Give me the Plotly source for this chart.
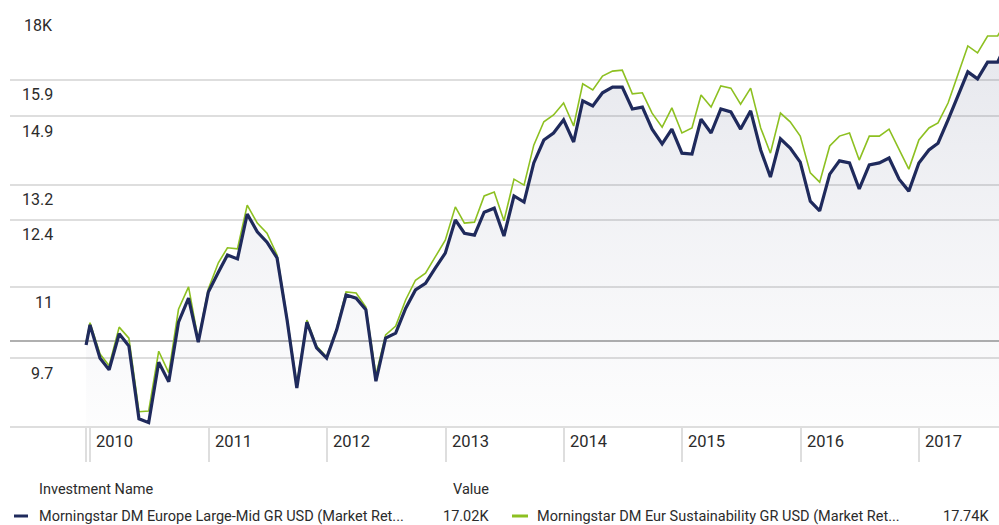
import numpy as np
import pandas as pd
import plotly.graph_objects as go

# ---------------- data ----------------
START_DATE = "2009-12-19"
MONTH_END_FIRST = "2009-12-31"
MONTH_END_LAST = "2017-09-30"

europe_large_mid = [
    9.93, 10.29,
    9.70, 9.50, 10.13, 9.91, 8.71, 8.65, 9.63, 9.30, 10.34, 10.79, 9.98, 10.91,
    11.30, 11.65, 11.57, 12.53, 12.14, 11.92, 11.59, 10.38, 9.20, 10.34, 9.88, 9.70,
    10.20, 10.85, 10.79, 10.57, 9.31, 10.05, 10.14, 10.60, 10.95, 11.08, 11.38, 11.69,
    12.40, 12.11, 12.07, 12.57, 12.66, 12.05, 12.94, 12.80, 13.72, 14.29, 14.47, 14.81,
    14.24, 15.32, 15.18, 15.54, 15.70, 15.70, 15.10, 15.15, 14.57, 14.19, 14.57, 13.96,
    13.94, 14.83, 14.47, 15.10, 15.02, 14.57, 15.05, 14.04, 13.38, 14.32, 14.09, 13.74,
    12.82, 12.60, 13.45, 13.77, 13.72, 13.10, 13.67, 13.72, 13.84, 13.33, 13.05, 13.72,
    14.04, 14.21, 14.81, 15.43, 16.13, 15.93, 16.41, 16.41, 17.02,
]
eur_sustainability = [
    9.98, 10.33,
    9.77, 9.57, 10.25, 10.05, 8.82, 8.83, 9.82, 9.45, 10.58, 11.01, 10.02, 10.97,
    11.49, 11.80, 11.78, 12.73, 12.33, 12.11, 11.65, 10.42, 9.26, 10.38, 9.91, 9.72,
    10.23, 10.91, 10.89, 10.62, 9.41, 10.11, 10.27, 10.76, 11.14, 11.28, 11.61, 11.96,
    12.69, 12.33, 12.35, 12.94, 13.03, 12.38, 13.33, 13.19, 14.16, 14.76, 14.94, 15.26,
    14.65, 15.79, 15.62, 16.01, 16.15, 16.18, 15.51, 15.54, 14.99, 14.62, 15.13, 14.47,
    14.60, 15.48, 15.15, 15.73, 15.67, 15.23, 15.67, 14.60, 13.96, 14.99, 14.76, 14.39,
    13.48, 13.26, 14.14, 14.39, 14.47, 13.79, 14.39, 14.39, 14.57, 14.04, 13.57, 14.29,
    14.60, 14.73, 15.26, 16.04, 16.89, 16.68, 17.19, 17.19, 17.74,
]

series_names = [
    "Morningstar DM Europe Large-Mid GR USD (Market Ret...",
    "Morningstar DM Eur Sustainability GR USD (Market Ret...",
]
series_values_text = ["17.02K", "17.74K"]
legend_header = ["Investment Name", "Value"]

y_tick_values = [9.7, 11, 12.4, 13.2, 14.9, 15.9, 18]
y_tick_text = ["9.7", "11", "12.4", "13.2", "14.9", "15.9", "18K"]
baseline_value = 10.0

year_labels = ["2010", "2011", "2012", "2013", "2014", "2015", "2016", "2017"]

# ---------------- derived ----------------
dates = [pd.Timestamp(START_DATE)] + list(pd.date_range(MONTH_END_FIRST, MONTH_END_LAST, freq="ME"))
navy_vals = [v * 1000 for v in europe_large_mid]
green_vals = [v * 1000 for v in eur_sustainability]
year_starts = [pd.Timestamp(f"{y}-01-01") for y in year_labels]

NAVY = "#1f2a5c"
GREEN = "#8dc021"
GRID = "#dedede"
TEXT = "#2b2b2b"
FONT = "Roboto, sans-serif"

# layout geometry (pixels)
W, H = 999, 525
ML, MR, MT, MB = 10, 0, 10, 99
PW, PH = W - ML - MR, H - MT - MB
px_per_day = 118.4 / 365.25
ref_day = pd.Timestamp(MONTH_END_FIRST)
ref_px = 90
x_left = ref_day - pd.Timedelta(days=(ref_px - ML) / px_per_day)
x_right = ref_day + pd.Timedelta(days=(W - MR - ref_px) / px_per_day)

px_per_ln = 563.0
base_px = 341
y_top = 10000 * np.exp((base_px - MT) / px_per_ln)
y_bot = 10000 * np.exp(-((MT + PH) - base_px) / px_per_ln)


def xp(px):
    return (px - ML) / PW


def yp(py):
    return (MT + PH - py) / PH


fig = go.Figure()
fig.add_trace(go.Scatter(
    x=dates, y=green_vals, mode="lines",
    line=dict(color=GREEN, width=1.6), showlegend=False, hoverinfo="skip",
))
fig.add_trace(go.Scatter(
    x=dates, y=navy_vals, mode="lines",
    line=dict(color=NAVY, width=3.2), fill="tozeroy",
    fillgradient=dict(type="vertical", start=y_bot, stop=max(navy_vals),
                      colorscale=[[0, "rgba(31,42,92,0.01)"], [0.5, "rgba(31,42,92,0.055)"],
                                  [1, "rgba(31,42,92,0.11)"]]),
    showlegend=False, hoverinfo="skip",
))

# baseline at 10K (initial investment)
fig.add_shape(type="line", xref="paper", x0=0, x1=1, yref="y",
              y0=baseline_value * 1000, y1=baseline_value * 1000,
              line=dict(color="#b0b0b0", width=2), layer="below")

annotations = []
for v, t in zip(y_tick_values, y_tick_text):
    annotations.append(dict(
        x=xp(55), xref="paper", xanchor="right",
        y=np.log10(v * 1000), yref="y", yanchor="middle", yshift=-15,
        text=t, showarrow=False, font=dict(family=FONT, size=16, color=TEXT),
    ))
for d, t in zip(year_starts, year_labels):
    annotations.append(dict(
        x=d, xref="x", xanchor="left", xshift=4,
        y=0, yref="paper", yanchor="middle", yshift=-15,
        text=t, showarrow=False, font=dict(family=FONT, size=16.5, color=TEXT),
    ))

# legend table
LEG_SIZE = 14.5
annotations.append(dict(x=xp(37), xref="paper", xanchor="left", y=yp(489), yref="paper",
                        yanchor="middle", text=legend_header[0], showarrow=False,
                        font=dict(family=FONT, size=LEG_SIZE, color=TEXT)))
annotations.append(dict(x=xp(491), xref="paper", xanchor="right", y=yp(489), yref="paper",
                        yanchor="middle", text=legend_header[1], showarrow=False,
                        font=dict(family=FONT, size=LEG_SIZE, color=TEXT)))
legend_cols = [(14, 28, 37, 491, NAVY), (512, 528, 535, 991, GREEN)]
for (s0, s1, tx, vx, col), name, val in zip(legend_cols, series_names, series_values_text):
    fig.add_shape(type="line", xref="paper", yref="paper", x0=xp(s0), x1=xp(s1),
                  y0=yp(516), y1=yp(516), line=dict(color=col, width=3))
    annotations.append(dict(x=xp(tx), xref="paper", xanchor="left", y=yp(516), yref="paper",
                            yanchor="middle", text=name, showarrow=False,
                            font=dict(family=FONT, size=LEG_SIZE, color=TEXT)))
    annotations.append(dict(x=xp(vx), xref="paper", xanchor="right", y=yp(516), yref="paper",
                            yanchor="middle", text=val, showarrow=False,
                            font=dict(family=FONT, size=LEG_SIZE, color=TEXT)))

fig.update_layout(
    width=W, height=H,
    margin=dict(l=ML, r=MR, t=MT, b=MB),
    paper_bgcolor="white", plot_bgcolor="white",
    annotations=annotations,
    hovermode=False,
    xaxis=dict(
        type="date", range=[x_left, x_right],
        tickvals=[dates[0]] + year_starts, ticktext=[""] * (len(year_starts) + 1),
        ticks="outside", ticklen=34, tickwidth=2, tickcolor=GRID,
        showgrid=False, zeroline=False,
        showline=True, linecolor=GRID, linewidth=2,
    ),
    yaxis=dict(
        type="log", range=[np.log10(y_bot), np.log10(y_top)],
        tickvals=[v * 1000 for v in y_tick_values[:-1]], showticklabels=False,
        showgrid=True, gridcolor=GRID, gridwidth=2, zeroline=False, ticks="",
    ),
)

fig.write_html("out.html", config={"displayModeBar": False},
               post_script="document.body.style.margin='0px';")
